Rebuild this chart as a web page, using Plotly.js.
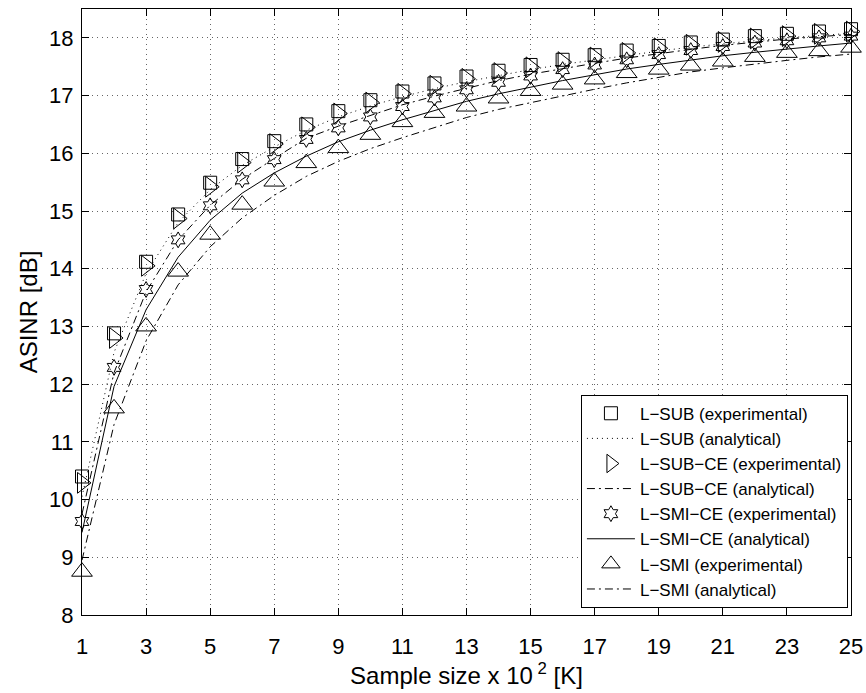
<!DOCTYPE html>
<html>
<head>
<meta charset="utf-8">
<script src="https://cdn.plot.ly/plotly-3.0.1.min.js"></script>
<style>
html,body{margin:0;padding:0;background:#fff;}
#chart{width:866px;height:693px;}
</style>
</head>
<body>
<div id="chart"></div>
<script>
// Sample size (x 10^2)
const sampleSize = [1,2,3,4,5,6,7,8,9,10,11,12,13,14,15,16,17,18,19,20,21,22,23,24,25];

const subExp   = [10.40,12.88,14.12,14.94,15.49,15.90,16.21,16.50,16.73,16.92,17.07,17.21,17.33,17.43,17.53,17.62,17.70,17.78,17.86,17.92,17.97,18.03,18.07,18.11,18.15];
const subAna   = [10.05,12.55,13.92,14.80,15.37,15.79,16.11,16.40,16.63,16.82,16.98,17.12,17.24,17.35,17.45,17.54,17.62,17.70,17.77,17.84,17.90,17.95,18.00,18.04,18.08];
const subCeExp = [10.29,12.80,14.05,14.87,15.42,15.84,16.16,16.45,16.69,16.88,17.03,17.17,17.29,17.39,17.49,17.58,17.66,17.74,17.82,17.88,17.93,17.99,18.03,18.07,18.11];
const subCeAna = [9.75,12.20,13.60,14.50,15.10,15.55,15.91,16.26,16.47,16.66,16.84,16.99,17.13,17.26,17.37,17.47,17.56,17.65,17.73,17.80,17.87,17.93,17.98,18.02,18.06];
const smiCeExp = [9.62,12.29,13.64,14.50,15.09,15.54,15.89,16.24,16.44,16.63,16.81,16.96,17.10,17.23,17.34,17.45,17.53,17.62,17.71,17.78,17.85,17.91,17.95,18.00,18.03];
const smiCeAna = [9.43,11.96,13.29,14.20,14.84,15.31,15.66,15.95,16.20,16.40,16.58,16.74,16.90,17.03,17.15,17.26,17.36,17.46,17.54,17.62,17.69,17.75,17.81,17.86,17.91];
const smiExp   = [8.75,11.58,13.00,13.95,14.59,15.11,15.51,15.83,16.09,16.32,16.54,16.70,16.81,16.95,17.08,17.19,17.28,17.39,17.45,17.52,17.59,17.67,17.74,17.77,17.83];
const smiAna   = [8.95,11.30,12.75,13.72,14.38,14.88,15.27,15.60,15.86,16.08,16.27,16.44,16.62,16.76,16.88,17.00,17.11,17.22,17.32,17.41,17.48,17.55,17.61,17.67,17.72];

const names = [
  "L\u2212SUB (experimental)",
  "L\u2212SUB (analytical)",
  "L\u2212SUB\u2212CE (experimental)",
  "L\u2212SUB\u2212CE (analytical)",
  "L\u2212SMI\u2212CE (experimental)",
  "L\u2212SMI\u2212CE (analytical)",
  "L\u2212SMI (experimental)",
  "L\u2212SMI (analytical)"
];
const xTicks = [1,3,5,7,9,11,13,15,17,19,21,23,25];
const yTicks = [8,9,10,11,12,13,14,15,16,17,18];

const FONT = "Liberation Sans, Arial, Helvetica, sans-serif";
const DASHDOT = "8px,4px,2px,4px";
function mk(y, name, symbol, size) {
  return {x: sampleSize, y: y, name: name, type: "scatter", mode: "markers", cliponaxis: false,
    marker: {symbol: symbol, size: size, color: "#000", line: {color: "#000", width: 1}}};
}
function ln(y, name, dash) {
  return {x: sampleSize, y: y, name: name, type: "scatter", mode: "lines",
    line: {color: "#000", width: 1, dash: dash}};
}

const data = [
  mk(subExp, names[0], "square-open", 13),
  ln(subAna, names[1], "1px,4px"),
  mk(subCeExp, names[2], "triangle-right-open", 18),
  ln(subCeAna, names[3], DASHDOT),
  mk(smiCeExp, names[4], "hexagram-open", 12),
  ln(smiCeAna, names[5], "solid"),
  mk(smiExp, names[6], "triangle-up-open", 18),
  ln(smiAna, names[7], DASHDOT)
];

const axisCommon = {
  showline: true, linecolor: "#000", linewidth: 1, mirror: "ticks",
  ticks: "inside", ticklen: 7, tickcolor: "#000", tickwidth: 1,
  showgrid: true, gridcolor: "#666", gridwidth: 1, griddash: "1px,4px",
  zeroline: false,
  tickfont: {family: FONT, size: 22, color: "#000"}
};

const layout = {
  width: 866, height: 693,
  margin: {l: 82, r: 15, t: 9, b: 78},
  paper_bgcolor: "#fff", plot_bgcolor: "#fff",
  font: {family: FONT, color: "#000"},
  xaxis: Object.assign({}, axisCommon, {
    range: [1, 25], tickmode: "array", tickvals: xTicks, ticktext: xTicks.map(String),
    ticklabelstandoff: 12,
    title: {text: "Sample size x 10<sup> 2</sup> [K]", font: {size: 24, family: FONT}, standoff: 6}
  }),
  yaxis: Object.assign({}, axisCommon, {
    range: [8, 18.5], tickmode: "array", tickvals: yTicks, ticktext: yTicks.map(String),
    ticklabelstandoff: 3,
    title: {text: "ASINR [dB]", font: {size: 24, family: FONT}, standoff: 4}
  }),
  showlegend: true,
  legend: {
    x: 0.996, xanchor: "right", y: 0.012, yanchor: "bottom",
    bgcolor: "#fff", bordercolor: "#000", borderwidth: 1,
    font: {size: 17, family: FONT, color: "#000"},
    itemwidth: 48,
    tracegroupgap: 0
  }
};

Plotly.newPlot("chart", data, layout, {displayModeBar: false, staticPlot: true});
</script>
</body>
</html>
